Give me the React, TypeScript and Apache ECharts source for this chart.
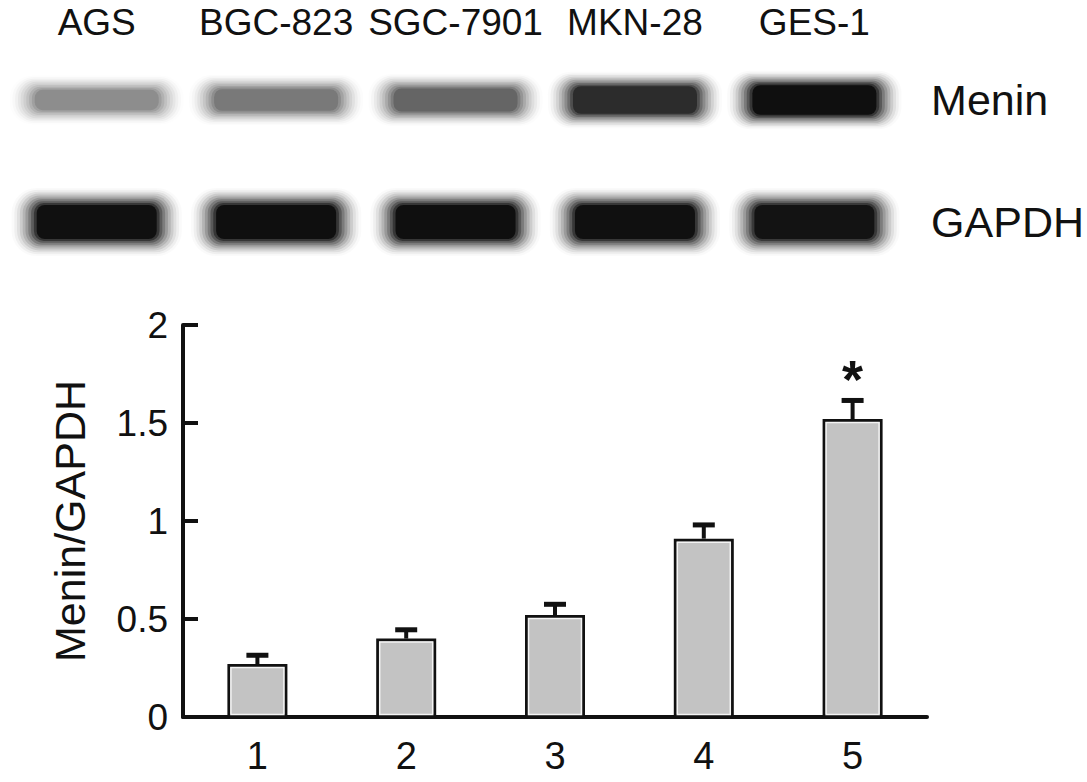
import React, { useEffect, useRef } from 'react';
import * as echarts from 'echarts';

// Western blot lanes and rows
const laneLabels = ['AGS', 'BGC-823', 'SGC-7901', 'MKN-28', 'GES-1'];
const blotRows = ['Menin', 'GAPDH'];
// relative band darkness (0 = blank, 1 = black)
const meninIntensity = [0.46, 0.54, 0.62, 0.86, 0.98];
const gapdhIntensity = [0.97, 0.98, 0.98, 0.97, 0.96];

// Bar chart
const groups = ['1', '2', '3', '4', '5'];
const ratioValues = [0.27, 0.4, 0.52, 0.91, 1.52];
const ratioErrors = [0.045, 0.045, 0.055, 0.07, 0.095];
const significance = ['', '', '', '', '*'];
const yMin = 0;
const yMax = 2;
const yStep = 0.5;

const FONT = '"Liberation Sans", Arial, Helvetica, sans-serif';
const INK = '#111';
const BAR_W = 60;

export default function App() {
  const ref = useRef<HTMLDivElement>(null);

  useEffect(() => {
    if (!ref.current) return;
    const chart = echarts.init(ref.current, undefined, { renderer: 'svg' });

    const bandData: number[][] = [];
    meninIntensity.forEach((v, i) => bandData.push([i, 0, v]));
    gapdhIntensity.forEach((v, i) => bandData.push([i, 1, v]));

    const option: any = {
      animation: false,
      backgroundColor: '#fff',
      textStyle: { fontFamily: FONT },
      grid: [
        { left: 183, right: 160, top: 325, bottom: 65 },
        { left: 7, right: 182, top: 39, height: 244 },
      ],
      xAxis: [
        {
          gridIndex: 0,
          type: 'category',
          data: groups,
          axisLine: { lineStyle: { color: INK, width: 4 } },
          axisTick: { inside: true, length: 12, lineStyle: { color: INK, width: 4 } },
          axisLabel: { fontSize: 38, color: INK, fontFamily: FONT, margin: 20 },
        },
        {
          gridIndex: 1,
          type: 'category',
          data: laneLabels,
          position: 'top',
          axisLine: { show: false },
          axisTick: { show: false },
          axisLabel: { interval: 0, fontSize: 37, color: INK, fontFamily: FONT, margin: -2 },
        },
      ],
      yAxis: [
        {
          gridIndex: 0,
          type: 'value',
          min: yMin,
          max: yMax,
          interval: yStep,
          axisLine: { show: true, lineStyle: { color: INK, width: 4 } },
          axisTick: { show: true, inside: true, length: 15, lineStyle: { color: INK, width: 4 } },
          splitLine: { show: false },
          axisLabel: { fontSize: 37, color: INK, fontFamily: FONT, margin: 15 },
          name: 'Menin/GAPDH',
          nameLocation: 'middle',
          nameGap: 92,
          nameTextStyle: { fontSize: 43, color: INK, fontFamily: FONT },
        },
        {
          gridIndex: 1,
          type: 'category',
          data: blotRows,
          inverse: true,
          position: 'right',
          axisLine: { show: false },
          axisTick: { show: false },
          axisLabel: { interval: 0, fontSize: 43, color: INK, fontFamily: FONT, margin: 27, align: 'left' },
        },
      ],
      series: [
        {
          type: 'custom',
          xAxisIndex: 1,
          yAxisIndex: 1,
          data: bandData,
          renderItem: (params: any, api: any) => {
            const lane = api.value(0);
            const row = api.value(1);
            const a = api.value(2);
            const c = api.coord([lane, row]);
            const w = row === 0 ? 124 : 120;
            const h = row === 0 ? 12 + 18 * a : 34;
            const layers = 10;
            const gx = 2.8;
            const gy = row === 0 ? 1.6 : 1.9;
            const children: any[] = [];
            let prev = 0;
            for (let k = 0; k < layers; k++) {
              const target = a * Math.pow((k + 1) / layers, 1.7);
              const q = 1 - (1 - target) / (1 - prev);
              prev = target;
              const ex = (layers - 1 - k) * gx;
              const ey = (layers - 1 - k) * gy;
              const ww = w + 2 * ex;
              const hh = h + 2 * ey;
              children.push({
                type: 'rect',
                shape: { x: c[0] - ww / 2, y: c[1] - hh / 2, width: ww, height: hh, r: Math.min(hh / 2, 8 + ey) },
                style: { fill: `rgba(10,10,10,${q})` },
              });
            }
            return { type: 'group', children };
          },
        },
        {
          type: 'bar',
          xAxisIndex: 0,
          yAxisIndex: 0,
          data: ratioValues,
          barWidth: BAR_W,
          itemStyle: { color: '#c3c3c3', borderColor: INK, borderWidth: 3 },
        },
        {
          type: 'custom',
          xAxisIndex: 0,
          yAxisIndex: 0,
          data: ratioValues.map((v, i) => [i, v, ratioErrors[i]]),
          z: 5,
          renderItem: (params: any, api: any) => {
            const idx = params.dataIndex;
            const v = api.value(1);
            const e = api.value(2);
            const base = api.coord([idx, 0]);
            const top = api.coord([idx, v]);
            const hi = api.coord([idx, v + e]);
            const half = BAR_W / 2;
            const children: any[] = [
              {
                type: 'rect',
                shape: {
                  x: base[0] - half + 3.5,
                  y: top[1] + 3.5,
                  width: BAR_W - 7,
                  height: base[1] - top[1] - 6,
                },
                style: { fill: 'none', stroke: '#f4f4f4', lineWidth: 1.5 },
              },
              {
                type: 'line',
                shape: { x1: top[0], y1: top[1], x2: hi[0], y2: hi[1] },
                style: { stroke: INK, lineWidth: 4 },
              },
              {
                type: 'line',
                shape: { x1: hi[0] - 11, y1: hi[1], x2: hi[0] + 11, y2: hi[1] },
                style: { stroke: INK, lineWidth: 5 },
              },
            ];
            if (significance[idx]) {
              children.push({
                type: 'text',
                style: {
                  text: significance[idx],
                  x: hi[0],
                  y: hi[1] + 6,
                  align: 'center',
                  verticalAlign: 'bottom',
                  font: `bold 54px ${FONT}`,
                  fill: INK,
                },
              });
            }
            return { type: 'group', children };
          },
        },
      ],
    };

    chart.setOption(option);
    return () => chart.dispose();
  }, []);

  return (
    <div
      ref={ref}
      style={{ position: 'fixed', left: 0, top: 0, width: 1087, height: 782, background: '#fff' }}
    />
  );
}
